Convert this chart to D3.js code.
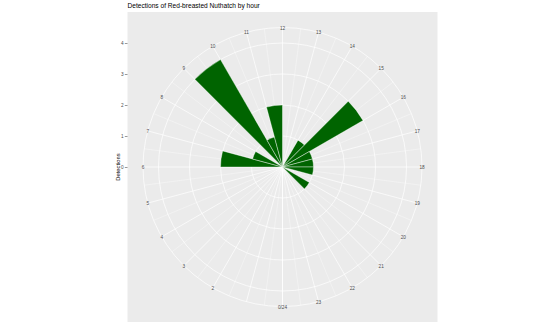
<!DOCTYPE html>
<html>
<head>
<meta charset="utf-8">
<script src="https://cdn.jsdelivr.net/npm/d3@7"></script>
<style>
  html, body { margin: 0; padding: 0; background: #ffffff; }
  svg { display: block; font-family: "Liberation Sans", Arial, Helvetica, sans-serif; }
</style>
</head>
<body>
<svg id="chart" width="553" height="335"></svg>
<script>
// ---- data ----
const hours = [0, 1, 2, 3, 4, 5, 6, 7, 8, 9, 10, 11, 12, 13, 14, 15, 16, 17, 18, 19, 20, 21, 22, 23];
const detections = [0, 0, 0, 0, 0, 0, 2, 1, 0, 4, 1, 2, 0, 0, 1, 3, 1, 1, 1, 0, 1, 0, 0, 0];
const thetaBreaks = [0, 1, 2, 3, 4, 5, 6, 7, 8, 9, 10, 11, 12, 13, 14, 15, 16, 17, 18, 19, 20, 21, 22, 23, 24];
// the reference shows no label at hour 1
const thetaLabels = ["0", "", "2", "3", "4", "5", "6", "7", "8", "9", "10", "11", "12", "13", "14", "15", "16", "17", "18", "19", "20", "21", "22", "23", "0/24"];
const rBreaks = [0, 1, 2, 3, 4];
const titleText = "Detections of Red-breasted Nuthatch by hour";
const yTitle = "Detections";

// ---- layout ----
const svg = d3.select("#chart");
const panel = { x: 127.5, y: 12, w: 310, h: 310 };
const P = 310;
const cx = panel.x + panel.w / 2;
const cy = panel.y + panel.h / 2;

const r = d3.scaleLinear().domain([0, 4]).range([0, 0.4 * P]);
const theta = d3.scaleLinear().domain([0, 24]).range([Math.PI, 3 * Math.PI]);
const R45 = 0.45 * P;

// panel background
svg.append("rect")
  .attr("x", panel.x).attr("y", panel.y)
  .attr("width", panel.w).attr("height", panel.h)
  .attr("fill", "#EBEBEB");

const g = svg.append("g").attr("transform", `translate(${cx},${cy})`);

// minor theta lines (half hours)
const minorBreaks = thetaBreaks.slice(0, -1).map(d => d + 0.5);
g.selectAll("line.minor").data(minorBreaks).enter().append("line")
  .attr("class", "minor")
  .attr("x1", 0).attr("y1", 0)
  .attr("x2", d => R45 * Math.sin(theta(d)))
  .attr("y2", d => -R45 * Math.cos(theta(d)))
  .attr("stroke", "#ffffff").attr("stroke-width", 0.35);

// major theta lines
g.selectAll("line.major").data(thetaBreaks).enter().append("line")
  .attr("class", "major")
  .attr("x1", 0).attr("y1", 0)
  .attr("x2", d => R45 * Math.sin(theta(d)))
  .attr("y2", d => -R45 * Math.cos(theta(d)))
  .attr("stroke", "#ffffff").attr("stroke-width", 0.7);

// radial circles
const circleRadii = rBreaks.map(d => r(d)).concat([R45]);
g.selectAll("circle.grid").data(circleRadii).enter().append("circle")
  .attr("class", "grid")
  .attr("r", d => d)
  .attr("fill", "none")
  .attr("stroke", "#ffffff").attr("stroke-width", 0.7);

// bars
const arc = d3.arc()
  .innerRadius(0)
  .outerRadius(d => r(d.v))
  .startAngle(d => theta(d.h))
  .endAngle(d => theta(d.h + 1));

const barData = hours.map((h, i) => ({ h: h, v: detections[i] })).filter(d => d.v > 0);
g.selectAll("path.bar").data(barData).enter().append("path")
  .attr("class", "bar")
  .attr("d", arc)
  .attr("fill", "#006400")
  .attr("stroke", "#ffffff").attr("stroke-width", 0.4);

// theta labels
thetaBreaks.forEach((b, i) => {
  if (i === 0 || !thetaLabels[i]) return; // 0 combined into 0/24
  const a = theta(b);
  g.append("text")
    .attr("x", (R45) * Math.sin(a))
    .attr("y", -(R45) * Math.cos(a) + 0.6)
    .attr("text-anchor", "middle")
    .attr("dominant-baseline", "central")
    .attr("font-size", 4.7)
    .attr("fill", "#4D4D4D")
    .text(thetaLabels[i]);
});

// left axis
const yAxisScale = d3.scaleLinear().domain([0, 4]).range([cy, cy - 0.4 * P]);
const yAxis = d3.axisLeft(yAxisScale).tickValues(rBreaks).tickSize(2.7).tickPadding(1.2).tickFormat(d3.format("d"));
const ya = svg.append("g").attr("transform", `translate(${panel.x},0)`).call(yAxis);
ya.select(".domain").remove();
ya.selectAll(".tick line").attr("stroke", "#333333").attr("stroke-width", 0.5);
ya.selectAll(".tick text").attr("fill", "#4D4D4D").attr("font-size", 4.7)
  .attr("font-family", "Liberation Sans, Arial, sans-serif");

// y title
svg.append("text")
  .attr("transform", `translate(${119.5},${cy}) rotate(-90)`)
  .attr("text-anchor", "middle")
  .attr("font-size", 5.8)
  .attr("fill", "#000000")
  .text(yTitle);

// title
svg.append("text")
  .attr("x", panel.x)
  .attr("y", 7.6)
  .attr("font-size", 6.6)
  .attr("fill", "#000000")
  .text(titleText);
</script>
</body>
</html>
